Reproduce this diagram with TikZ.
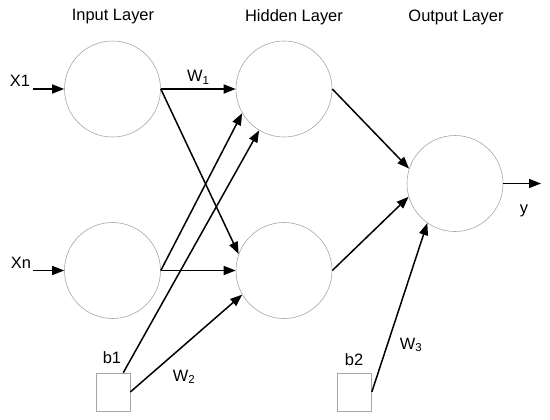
\documentclass[tikz,border=0pt]{standalone}
\usepackage{fontspec}
\setmainfont{Liberation Sans}
\usetikzlibrary{arrows.meta}
\begin{document}
\begin{tikzpicture}[x=1bp,y=-1bp,
  neuron/.style={circle,draw=gray!70,line width=0.6bp,minimum size=96bp,inner sep=0pt},
  biasbox/.style={rectangle,draw=gray!70,line width=0.6bp,minimum width=34bp,minimum height=38bp,inner sep=0pt},
  conn/.style={line width=1.5bp,-{Triangle[length=12bp,width=9bp]}},
  lbl/.style={font=\fontsize{16.5}{19}\selectfont,inner sep=0pt}]
\useasboundingbox (0,0) rectangle (550,419);
\node[lbl] (tin) at (113,17) {Input Layer};
\node[lbl] (thid) at (294,17) {Hidden Layer};
\node[lbl] (tout) at (456,17) {Output Layer};
\node[neuron] (i1) at (112.5,89) {};
\node[neuron] (i2) at (112.5,270.5) {};
\node[neuron] (h1) at (284,89) {};
\node[neuron] (h2) at (284,270.5) {};
\node[neuron] (o) at (455,183.5) {};
\node[biasbox] (b1) at (113,392) {};
\node[biasbox] (b2) at (354.5,392) {};
\node[lbl] (b1l) at (112,358) {b1};
\node[lbl] (b2l) at (354,360) {b2};
\coordinate (x1s) at (33,89);
\coordinate (xns) at (33,270.5);
\coordinate (ye) at (541,183.5);
\node[lbl] (x1l) at (20,81) {X1};
\node[lbl] (xnl) at (21,263) {Xn};
\node[lbl] (yl) at (524,211) {y};
\draw[conn] (x1s) -- (i1.west);
\draw[conn] (xns) -- (i2.west);
\draw[conn] (i1.east) -- node[lbl,above=4bp,pos=0.5] (w1) {W\textsubscript{1}} (h1.west);
\draw[conn] (i1.east) -- (h2.160);
\draw[conn] (i2.east) -- (h1.210);
\draw[conn] (i2.east) -- (h2.west);
\draw[conn] (b1.62) -- (h1.239);
\draw[conn] (b1.east) -- (h2.210);
\draw[conn] (h1.east) -- (o.162);
\draw[conn] (h2.east) -- (o.196);
\draw[conn] (b2.east) -- (o.235);
\draw[conn] (o.east) -- (ye);
\node[lbl] (w2) at (184,377) {W\textsubscript{2}};
\node[lbl] (w3) at (411,345) {W\textsubscript{3}};
\end{tikzpicture}
\end{document}
